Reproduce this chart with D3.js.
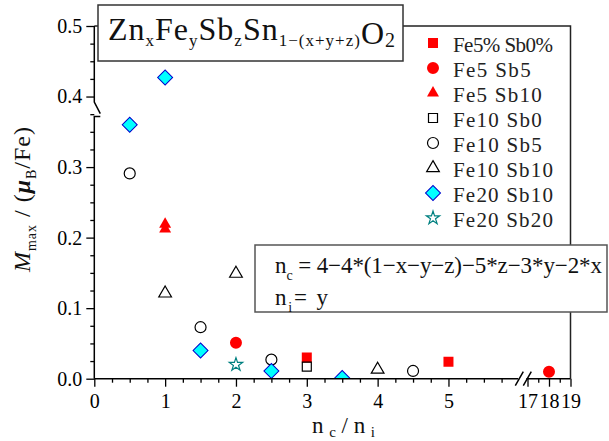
<html>
<head><meta charset="utf-8"></head>
<body style="margin:0;background:#fff">
<svg id="graph" width="609" height="441"></svg>
<script src="https://d3js.org/d3.v7.min.js"></script>
<script>
// series data (x = nc/ni, y = Mmax in muB/Fe)
var seriesNames = ['Fe5% Sb0%','Fe5 Sb5','Fe5 Sb10','Fe10 Sb0','Fe10 Sb5','Fe10 Sb10','Fe20 Sb10','Fe20 Sb20'];
var fe5sb0X = [3, 5];                  var fe5sb0Y = [0.030, 0.024];
var fe5sb5X = [2, 18];                 var fe5sb5Y = [0.051, 0.010];
var fe5sb10X = [1, 1];                 var fe5sb10Y = [0.219, 0.212];
var fe10sb0X = [3];                    var fe10sb0Y = [0.017];
var fe10sb5X = [0.5, 1.5, 2.5, 4.5];   var fe10sb5Y = [0.291, 0.073, 0.027, 0.011];
var fe10sb10X = [1, 2, 4];             var fe10sb10Y = [0.121, 0.149, 0.013];
var fe20sb10X = [0.5, 1, 1.5, 2.5, 3.5]; var fe20sb10Y = [0.360, 0.427, 0.040, 0.011, 0.001];
var fe20sb20X = [2];                   var fe20sb20Y = [0.020];
var xTicks = [0, 1, 2, 3, 4, 5, 17, 18, 19];
var yTicks = [0, 0.1, 0.2, 0.3, 0.4, 0.5];

var serif = '"Liberation Serif", "DejaVu Serif", serif';
var svg = d3.select('#graph');

// broken x axis: 0..6 then 16.8..19
var x = d3.scaleLinear().domain([0, 6, 16.8, 19]).range([94.3, 519.3, 523.2, 570.5]);
var y = d3.scaleLinear().domain([0, 0.5]).range([378.7, 26]);

var pLeft = x(0), pRight = x(19), pTop = y(0.5), pBottom = y(0);

// symbol styles per series
var styles = [
	{type:'square', size:100, fill:'#ff0000', stroke:'none'},
	{type:'circle', size:113, fill:'#ff0000', stroke:'none'},
	{type:'triangle', size:62, fill:'#ff0000', stroke:'none'},
	{type:'square', size:81, fill:'none', stroke:'#000'},
	{type:'circle', size:95, fill:'none', stroke:'#000'},
	{type:'triangle', size:70, fill:'none', stroke:'#000'},
	{type:'diamond', size:112, fill:'#00ffff', stroke:'#0000cd'},
	{type:'star', size:55, fill:'none', stroke:'#008080'}
];
var symbolTypes = {square:d3.symbolSquare, circle:d3.symbolCircle, triangle:d3.symbolTriangle, diamond:d3.symbolSquare, star:d3.symbolStar};

var seriesX = [fe5sb0X, fe5sb5X, fe5sb10X, fe10sb0X, fe10sb5X, fe10sb10X, fe20sb10X, fe20sb20X];
var seriesY = [fe5sb0Y, fe5sb5Y, fe5sb10Y, fe10sb0Y, fe10sb5Y, fe10sb10Y, fe20sb10Y, fe20sb20Y];
var points = [];
for(var i=0;i<seriesX.length;i++){
	for(var j=0;j<seriesX[i].length;j++){
		points.push({s:i, x:seriesX[i][j], y:seriesY[i][j]});
	}
}

function drawSymbol(sel){
	sel.attr('d',function(d){return d3.symbol().type(symbolTypes[styles[d.s].type]).size(styles[d.s].size)();})
		.attr('fill',function(d){return styles[d.s].fill;})
		.attr('stroke',function(d){return styles[d.s].stroke;})
		.attr('stroke-width',function(d){return styles[d.s].type=='diamond'?1:1.2;});
}

// frame (top and right)
svg.append('path')
	.attr('d','M'+pLeft+','+pTop+'H'+pRight+'V'+pBottom)
	.attr('fill','none').attr('stroke','#222').attr('stroke-width',1.5);

// points
svg.append('clipPath').attr('id','plotclip')
	.append('rect').attr('x',pLeft).attr('y',pTop).attr('width',pRight-pLeft).attr('height',pBottom-pTop);
svg.append('g').attr('clip-path','url(#plotclip)')
	.selectAll('path')
	.data(points)
	.enter()
	.append('path')
	.attr('transform',function(d){
		var t = 'translate('+x(d.x)+','+y(d.y)+')';
		return styles[d.s].type=='diamond' ? t+' rotate(45)' : t;
	})
	.call(drawSymbol);

// axes: ticks only, lines drawn by hand for the breaks
var minorX = d3.range(0.25, 6, 0.25).filter(function(v){return v%1!=0;}).concat([17.5, 18.5]);
var minorY = d3.range(0.025, 0.5, 0.025).filter(function(v){return Math.abs(v*10-Math.round(v*10))>0.01;});

svg.append('g').attr('transform','translate(0,'+pBottom+')')
	.call(d3.axisBottom(x).tickValues(xTicks).tickSize(8).tickPadding(7).tickFormat(d3.format('d')));
svg.append('g').attr('transform','translate(0,'+pBottom+')')
	.call(d3.axisBottom(x).tickValues(minorX).tickSize(4).tickFormat(''));
svg.append('g').attr('transform','translate('+pLeft+',0)')
	.call(d3.axisLeft(y).tickValues(yTicks).tickSize(8).tickPadding(4).tickFormat(d3.format('.1f')));
svg.append('g').attr('transform','translate('+pLeft+',0)')
	.call(d3.axisLeft(y).tickValues(minorY).tickSize(4).tickFormat(''));
svg.selectAll('.domain').remove();
svg.selectAll('.tick line').attr('stroke','#000').attr('stroke-width',1.3);
svg.selectAll('.tick text').attr('font-family',serif).attr('font-size',20).attr('fill','#000');

// axis lines with breaks
var yb = y(0.375);
svg.append('path')
	.attr('d','M'+pLeft+','+pTop+'V'+(yb-12)+'L'+(pLeft+6)+','+(yb-0.5)
		+'M'+(pLeft+6)+','+(yb+2.3)+'H'+pLeft+'V'+pBottom)
	.attr('fill','none').attr('stroke','#000').attr('stroke-width',1.5);
var xb = x(6);
svg.append('path')
	.attr('d','M'+pLeft+','+pBottom+'H'+(xb-1)+'M'+(xb+7)+','+pBottom+'H'+pRight)
	.attr('fill','none').attr('stroke','#000').attr('stroke-width',1.5);
svg.append('path')
	.attr('d','M'+(xb-4)+','+(pBottom+7)+'L'+(xb+4)+','+(pBottom-7)
		+'M'+(xb+4)+','+(pBottom+7)+'L'+(xb+12)+','+(pBottom-7))
	.attr('fill','none').attr('stroke','#000').attr('stroke-width',1.5);

// title box
svg.append('rect').attr('x',98).attr('y',5).attr('width',305).attr('height',56)
	.attr('fill','#fff').attr('stroke','#333').attr('stroke-width',1.5);
var titleParts = [['Zn',32,0],['x',17,6],['Fe',32,0],['y',17,6],['Sb',32,0],['z',17,6],['Sn',32,0],['1\u2212(x+y+z)',17,6],['O',32,4],['2',20,7]];
var title = svg.append('text').attr('x',108).attr('y',40)
	.attr('font-family',serif).attr('fill','#111')
	.attr('textLength',287).attr('lengthAdjust','spacing');
var prev = 0;
titleParts.forEach(function(p){
	title.append('tspan').attr('font-size',p[1]).attr('dy',p[2]-prev).text(p[0]);
	prev = p[2];
});

// legend
var legend = svg.append('g').selectAll('g')
	.data(seriesNames)
	.enter()
	.append('g')
	.attr('transform',function(d,i){return 'translate(433,'+(43+25*i)+')';});
legend.append('path')
	.datum(function(d,i){return {s:i};})
	.attr('transform',function(d){return styles[d.s].type=='diamond'?'rotate(45)':null;})
	.call(drawSymbol);
legend.append('text')
	.attr('x',20).attr('y',8.5)
	.attr('font-family',serif).attr('font-size',21).attr('fill','#222')
	.attr('textLength',function(d){return d.length*11.1;})
	.attr('lengthAdjust','spacing')
	.text(function(d){return d;});

// formula box
svg.append('rect').attr('x',255).attr('y',245).attr('width',352).attr('height',67)
	.attr('fill','#fff').attr('stroke','#555').attr('stroke-width',1.5);
var f1 = svg.append('text').attr('x',275).attr('y',273)
	.attr('font-family',serif).attr('font-size',23).attr('fill','#111')
	.attr('textLength',327).attr('lengthAdjust','spacing');
f1.append('tspan').text('n');
f1.append('tspan').attr('font-size',14).attr('dy',7).text('c');
f1.append('tspan').attr('dy',-7).text(' = 4\u22124*(1\u2212x\u2212y\u2212z)\u22125*z\u22123*y\u22122*x');
var f2 = svg.append('text').attr('x',275).attr('y',305)
	.attr('font-family',serif).attr('font-size',23).attr('fill','#111')
	.attr('textLength',53).attr('lengthAdjust','spacing');
f2.append('tspan').text('n');
f2.append('tspan').attr('font-size',14).attr('dy',7).text('i');
f2.append('tspan').attr('dy',-7).text('= y');

// x axis title
var xl = svg.append('text').attr('x',312).attr('y',433)
	.attr('font-family',serif).attr('font-size',23).attr('fill','#111')
	.attr('textLength',63).attr('lengthAdjust','spacing');
xl.append('tspan').text('n');
xl.append('tspan').attr('font-size',15).attr('dy',4).text('c');
xl.append('tspan').attr('dy',-4).text('/n');
xl.append('tspan').attr('font-size',15).attr('dy',4).text('i');

// y axis title
var yl = svg.append('text').attr('transform','translate(30,272) rotate(-90)')
	.attr('font-family',serif).attr('font-size',24).attr('fill','#111')
	.attr('textLength',145).attr('lengthAdjust','spacing');
yl.append('tspan').attr('font-style','italic').text('M');
yl.append('tspan').attr('font-size',14).attr('dy',6).text('max');
yl.append('tspan').attr('dy',-6).text(' / (');
yl.append('tspan').attr('font-style','italic').attr('font-weight','bold').text('\u03bc');
yl.append('tspan').attr('font-size',14).attr('dy',6).text('B');
yl.append('tspan').attr('dy',-6).text('/Fe)');
</script>
</body>
</html>
